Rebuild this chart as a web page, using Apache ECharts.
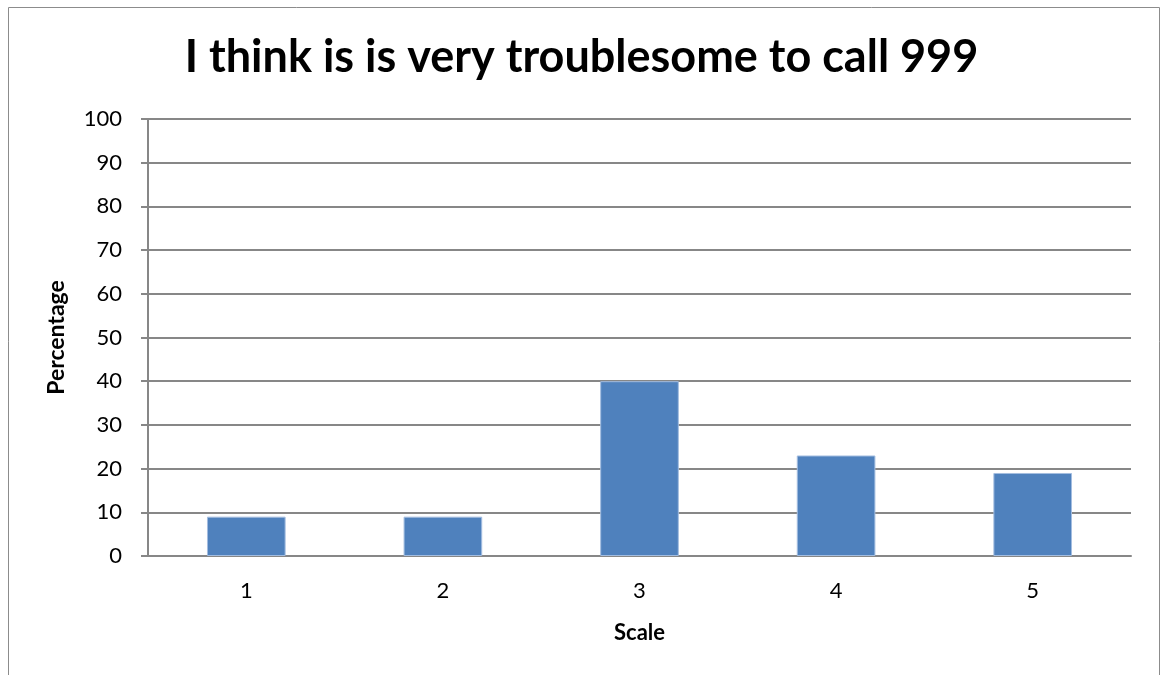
<!DOCTYPE html>
<html>
<head>
<meta charset="utf-8">
<script src="https://cdn.jsdelivr.net/npm/echarts@6/dist/echarts.min.js"></script>
<style>
  html, body { margin: 0; padding: 0; background: #fff; }
  #chart { width: 1163px; height: 675px; }
</style>
</head>
<body>
<div id="chart"></div>
<script>
// Survey responses on a 1–5 scale
const categories = ['1', '2', '3', '4', '5'];
const percentages = [9, 9, 40, 23, 19];
const yTicks = { min: 0, max: 100, interval: 10 };

const chart = echarts.init(document.getElementById('chart'), null, { renderer: 'canvas' });
const font = 'Lato, "Open Sans", "Liberation Sans", sans-serif';

chart.setOption({
  animation: false,
  backgroundColor: '#ffffff',
  title: {
    text: 'I think is is very troublesome to call 999',
    left: 'center',
    top: 30,
    textStyle: { fontFamily: font, fontSize: 45, fontWeight: 'bold', color: '#000' }
  },
  graphic: [{
    type: 'rect',
    shape: { x: 8.5, y: 7.5, width: 1151, height: 720 },
    style: { fill: 'none', stroke: '#8c8c8c', lineWidth: 1 },
    silent: true
  }],
  grid: { left: 148, right: 32, top: 119, bottom: 119 },
  xAxis: {
    type: 'category',
    data: categories,
    name: 'Scale',
    nameLocation: 'middle',
    nameGap: 66,
    nameTextStyle: { fontFamily: font, fontSize: 22, fontWeight: 'bold', color: '#000' },
    axisLine: { lineStyle: { color: '#878787', width: 2 } },
    axisTick: { show: false },
    axisLabel: { fontFamily: font, fontSize: 22, color: '#000', margin: 24 }
  },
  yAxis: {
    type: 'value',
    min: yTicks.min,
    max: yTicks.max,
    interval: yTicks.interval,
    name: 'Percentage',
    nameLocation: 'middle',
    nameGap: 80,
    nameRotate: 90,
    nameTextStyle: { fontFamily: font, fontSize: 23, fontWeight: 'bold', color: '#000' },
    axisLine: { show: true, lineStyle: { color: '#878787', width: 2 } },
    axisTick: { show: true, length: 7, lineStyle: { color: '#878787', width: 2 } },
    axisLabel: { fontFamily: font, fontSize: 22, color: '#000', margin: 26 },
    splitLine: { show: true, lineStyle: { color: '#878787', width: 2 } }
  },
  series: [{
    type: 'bar',
    data: percentages,
    barWidth: '40%',
    itemStyle: { color: '#4f81bd', borderColor: '#a3bde0', borderWidth: 1 }
  }]
});
</script>
</body>
</html>
